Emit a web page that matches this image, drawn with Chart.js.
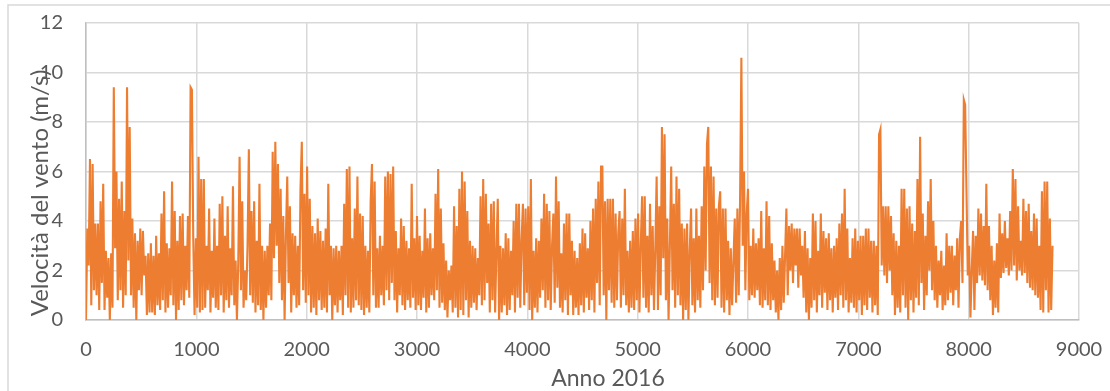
<!DOCTYPE html>
<html><head><meta charset="utf-8">
<script src="https://cdn.jsdelivr.net/npm/chart.js@4.4.0/dist/chart.umd.min.js"></script>
<style>html,body{margin:0;padding:0;background:#fff;} canvas{display:block;}</style>
</head><body>
<canvas id="c" width="1110" height="391"></canvas>
<script>
const hourStep = 12;
// hours 0 - 2148
const windPart1 = [
0.0,3.7,2.2,6.5,0.6,6.3,1.2,3.9,1.0,3.9,
0.4,4.8,1.5,5.5,0.4,2.8,0.9,2.5,0.0,2.7,
0.5,9.4,2.9,6.0,0.8,4.9,1.2,5.6,0.5,4.4,
1.0,9.4,2.4,7.8,1.0,4.1,0.5,3.5,0.0,3.2,
1.2,3.7,1.0,3.6,1.8,2.6,0.2,2.7,0.3,3.1,
0.3,2.6,0.2,3.4,0.6,2.7,0.4,4.3,0.8,5.2,
0.3,3.1,0.5,2.9,1.0,5.6,0.6,4.4,0.0,3.2,
0.4,4.2,0.8,4.3,0.6,3.0,1.2,4.2,0.9,9.4,
9.3,3.3,0.2,3.3,0.5,6.6,0.3,5.7,0.4,5.7,
0.5,3.0,1.2,4.5,0.3,2.8,0.9,4.1,0.5,3.0,
0.4,4.7,1.0,5.0,0.3,3.4,0.8,4.6,0.5,2.9,
1.0,5.4,0.6,2.4,0.0,2.3,6.6,1.2,4.8,0.5,
2.0,0.8,3.0,6.9,1.0,4.4,0.7,4.8,0.3,3.2,
0.6,5.5,0.4,3.0,0.0,2.8,0.5,3.0,1.0,3.9,
0.8,6.8,2.5,7.2,3.0,6.3,1.5,5.3,0.8,4.2,
0.0,3.4,5.8,1.5,4.6,0.3,3.5,1.0,3.4,0.5,
3.0,0.6,5.3,7.2,1.2,5.1,0.7,6.2,1.0,4.9,
0.3,3.8,0.5,3.5,0.2,4.1,0.8,3.6,0.4,3.2
];
// hours 2160 - 4308
const windPart2 = [
0.5,3.7,0.3,5.5,1.0,3.0,0.0,2.9,0.6,3.0,
0.3,2.8,0.8,3.0,0.2,4.7,1.0,6.1,0.5,6.2,
0.3,3.3,0.5,4.5,0.8,5.8,0.6,4.3,0.4,4.2,
0.2,3.0,0.5,2.8,0.3,4.8,6.3,1.0,5.6,0.5,
2.9,0.5,3.4,1.0,3.0,0.6,5.8,1.2,6.0,0.8,
5.9,1.5,6.2,0.8,3.6,0.3,2.9,1.0,4.1,0.6,
3.8,0.4,3.2,0.8,2.9,0.5,5.5,0.9,3.3,0.4,
4.2,0.6,3.4,0.4,2.8,0.9,4.5,0.3,3.3,0.5,
3.5,1.0,2.9,0.8,5.1,1.2,6.1,0.5,4.5,0.7,
3.1,0.4,2.4,0.1,2.0,0.8,2.2,0.3,4.6,0.5,
3.8,0.1,5.3,0.4,6.0,0.2,5.6,0.8,4.4,0.1,
3.2,0.5,3.0,0.7,2.9,0.4,2.5,1.0,5.0,0.6,
5.7,0.8,5.1,1.5,3.9,0.3,4.7,0.8,4.8,0.3,
2.8,4.9,0.0,3.0,0.3,2.9,0.6,3.5,0.2,3.3,
0.4,2.8,1.0,4.0,0.3,4.7,0.9,4.7,0.5,3.2,
4.7,0.6,4.5,1.1,4.6,0.4,5.7,0.0,2.8,0.5,
3.3,0.3,3.2,0.9,4.1,1.2,5.1,0.5,4.7,0.8,
4.4,0.4,3.0,4.3,0.7,5.8,1.3,4.8,0.5,2.7
];
// hours 4320 - 6468
const windPart3 = [
0.3,3.9,0.8,4.3,0.2,4.3,1.0,3.2,0.2,2.8,
0.5,2.5,0.2,3.1,0.6,3.7,0.3,3.5,0.9,2.9,
0.4,4.0,0.8,4.5,0.3,4.9,1.5,5.6,0.6,6.2,
6.2,1.0,4.8,0.0,4.9,1.2,4.9,0.7,4.9,0.5,
4.3,0.8,3.5,4.4,0.5,4.1,1.0,5.3,0.6,2.8,
0.3,3.2,0.5,3.6,0.4,4.1,0.8,4.3,0.3,3.0,
5.0,0.9,5.0,0.5,3.4,0.3,4.7,1.0,3.8,0.4,
2.9,5.8,0.4,4.6,1.0,7.8,2.5,7.5,0.8,4.1,
0.0,3.0,6.2,1.2,4.7,0.5,5.8,1.0,5.3,0.6,
3.9,0.0,3.7,0.4,3.9,0.0,2.8,4.5,0.6,3.3,
0.3,4.5,0.8,3.4,0.5,4.6,1.2,6.2,2.0,7.1,
7.8,1.5,6.2,0.8,5.8,0.6,4.5,0.9,4.6,5.2,
0.5,4.5,0.3,4.5,0.8,3.2,0.2,2.9,0.6,2.4,
4.1,0.7,4.5,1.0,4.8,10.6,3.0,6.0,1.2,4.3,
5.3,0.8,3.0,1.0,3.7,0.9,3.1,1.2,3.3,0.6,
4.4,0.5,2.9,0.8,4.8,0.6,4.2,0.4,3.1,0.8,
2.4,0.3,2.0,0.0,2.5,0.4,3.0,0.7,2.6,4.5,
1.0,3.8,2.0,3.9,1.5,3.7,2.2,3.7,1.3,3.7
];
// hours 6480 - 8760
const windPart4 = [
1.8,3.0,0.9,3.6,0.3,2.9,0.0,2.5,0.5,4.3,
0.8,4.0,0.3,2.8,1.0,4.3,0.5,3.6,1.1,3.3,
0.4,3.5,0.8,2.9,0.3,3.0,0.9,3.3,0.4,3.9,
1.0,4.3,0.5,5.3,0.8,3.7,0.3,2.5,0.7,3.3,
0.5,3.7,0.3,3.2,0.8,3.4,0.2,3.4,0.6,3.7,
0.4,3.7,0.9,3.2,0.3,3.2,0.6,3.0,0.2,7.5,
7.7,2.2,4.6,1.8,4.6,1.5,4.6,2.0,4.2,1.0,
3.5,0.2,3.2,0.5,3.0,0.3,5.3,1.0,5.3,0.5,
4.5,0.0,4.6,0.8,3.9,0.3,3.6,0.9,5.7,0.6,
7.4,1.5,4.3,0.4,3.4,1.0,4.8,2.0,5.7,1.2,
4.0,0.8,3.0,0.5,2.4,1.0,2.8,0.4,2.2,0.6,
3.5,0.8,3.0,1.1,3.0,0.6,2.6,1.2,3.3,0.5,
3.3,4.0,1.5,8.9,8.7,5.3,1.8,3.0,0.1,2.0,
3.6,0.4,3.4,1.5,4.5,1.8,4.3,1.6,3.8,1.4,
5.5,1.2,3.8,0.8,3.0,0.2,2.4,0.5,3.1,0.3,
4.3,1.7,3.5,1.9,4.0,2.1,3.3,1.8,4.4,2.0,
6.1,2.2,5.7,1.6,4.6,2.0,3.2,1.8,4.9,1.9,
4.4,1.5,4.7,1.3,3.6,1.2,4.3,1.0,4.1,0.9,
3.0,0.4,5.2,0.3,5.6,1.2,5.6,0.3,4.1,0.4,
3.0
];
const xTickValues = [0,1000,2000,3000,4000,5000,6000,7000,8000,9000];
const yTickValues = [0,2,4,6,8,10,12];
const xTitle = 'Anno 2016';
const yTitle = 'Velocità del vento (m/s)';

const windSpeed = [].concat(windPart1, windPart2, windPart3, windPart4);
const points = windSpeed.map((v, i) => ({x: i * hourStep, y: v}));

const FONT = 'Lato, "Open Sans", sans-serif';
const TEXT = '#595959';
const GRID = '#d9d9d9';
const AXIS = '#bfbfbf';

const framePlugin = {
  id: 'frame',
  beforeDraw(chart) {
    const ctx = chart.ctx;
    ctx.save();
    ctx.fillStyle = '#fff';
    ctx.fillRect(0, 0, chart.width, chart.height);
    ctx.strokeStyle = GRID;
    ctx.lineWidth = 1.5;
    ctx.beginPath();
    ctx.moveTo(8, chart.height + 2);
    ctx.lineTo(8, 5);
    ctx.lineTo(chart.width + 2, 5);
    ctx.stroke();
    ctx.restore();
  },
  afterDraw(chart) {
    const ctx = chart.ctx;
    ctx.save();
    ctx.fillStyle = TEXT;
    ctx.textAlign = 'center';
    ctx.textBaseline = 'alphabetic';
    ctx.font = '23px ' + FONT;
    ctx.fillText(xTitle, 608, 386);
    ctx.font = '24px ' + FONT;
    ctx.translate(48, 193);
    ctx.rotate(-Math.PI / 2);
    ctx.fillText(yTitle, 0, 0);
    ctx.restore();
  }
};

new Chart(document.getElementById('c'), {
  type: 'line',
  data: {datasets: [{data: points, borderColor: '#ED7D31', borderWidth: 2.1, pointRadius: 0, tension: 0, fill: false}]},
  options: {
    responsive: false, animation: false, devicePixelRatio: 1,
    layout: {padding: {top: 23, right: 31, left: 0, bottom: 0}},
    plugins: {legend: {display: false}, tooltip: {enabled: false}},
    scales: {
      x: {
        type: 'linear', min: 0, max: 9000,
        afterBuildTicks(s) { s.ticks = xTickValues.map(v => ({value: v})); },
        afterFit(s) { s.height = 71; s.paddingLeft = 0; s.paddingRight = 0; },
        grid: {color: GRID, lineWidth: 1.5, drawTicks: false},
        border: {color: AXIS, width: 1.5},
        ticks: {font: {family: FONT, size: 20}, color: TEXT, padding: 18, maxRotation: 0, autoSkip: false,
                callback: v => String(v)}
      },
      y: {
        min: 0, max: 12,
        afterBuildTicks(s) { s.ticks = yTickValues.map(v => ({value: v})); },
        afterFit(s) { s.width = 86; s.paddingTop = 0; s.paddingBottom = 0; },
        grid: {color: GRID, lineWidth: 1.5, drawTicks: false},
        border: {color: AXIS, width: 1.5},
        ticks: {font: {family: FONT, size: 20}, color: TEXT, padding: 23, callback: v => String(v)}
      }
    }
  },
  plugins: [framePlugin]
});
</script>
</body></html>
